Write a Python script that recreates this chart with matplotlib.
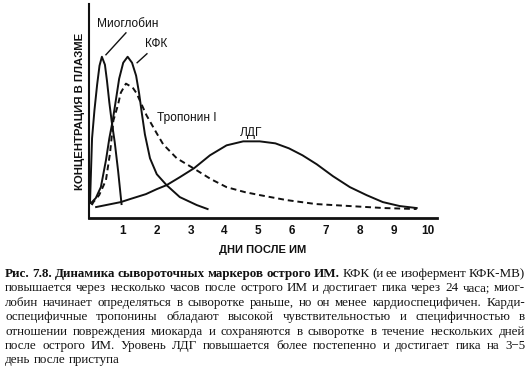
import matplotlib.pyplot as plt

# Данные: дни после ИМ и концентрация (усл. ед.)
myo_days = [0.03, 0.06, 0.09, 0.16, 0.24, 0.31, 0.38, 0.47, 0.53, 0.6, 0.67, 0.76, 0.86, 0.96]
myo_vals = [15, 48, 80, 108, 134, 153, 162, 154, 138, 116, 97, 76, 47, 14]

kfk_days = [0.06, 0.2, 0.35, 0.5, 0.6, 0.7, 0.8, 0.89, 1.01, 1.14, 1.27, 1.39, 1.48, 1.56,
            1.65, 1.8, 2.0, 2.29, 2.68, 3.18, 3.5]
kfk_vals = [15, 20, 31, 58, 80, 98, 120, 140, 156, 162, 156, 143, 125, 105,
            84, 60, 44, 33, 21, 13, 9]

trop_days = [0.08, 0.13, 0.3, 0.5, 0.62, 0.72, 0.85, 0.94, 1.09, 1.29, 1.41, 1.5, 1.7,
             2.0, 2.19, 2.59, 3.08, 3.6, 4.06, 4.6, 5.04, 5.83, 6.7, 7.7, 8.7, 9.67]
trop_vals = [13, 16, 23, 38, 65, 98, 113, 126, 135, 131, 125, 118, 103,
             85, 74, 60, 50, 39, 31, 26, 23, 18, 14, 12, 10, 9]

ldg_days = [0.21, 0.94, 1.21, 1.68, 2.0, 2.29, 2.68, 3.1, 3.57, 4.06, 4.55, 5.04, 5.5,
            5.9, 6.3, 6.72, 7.2, 7.7, 8.19, 8.67, 9.17, 9.67]
ldg_vals = [11, 16, 19, 24, 29, 33, 41, 50, 63, 73, 77, 77, 75,
            70, 63, 54, 42, 31, 23, 16, 12, 10]

ticks = [1, 2, 3, 4, 5, 6, 7, 8, 9, 10]

caption = [
    [("Рис. 7.8. Динамика сывороточных маркеров острого ИМ.", True),
     ("КФК (и ее изофермент КФК-МВ)", False)],
    [("повышается через несколько часов после острого ИМ и достигает пика через 24 часа; миог-", False)],
    [("лобин начинает определяться в сыворотке раньше, но он менее кардиоспецифичен. Карди-", False)],
    [("оспецифичные тропонины обладают высокой чувствительностью и специфичностью в", False)],
    [("отношении повреждения миокарда и сохраняются в сыворотке в течение нескольких дней", False)],
    [("после острого ИМ. Уровень ЛДГ повышается более постепенно и достигает пика на 3−5", False)],
    [("день после приступа", False)],
]

ink = "#111111"

fig = plt.figure(figsize=(5.29, 3.68), dpi=100)
ax = fig.add_axes([89 / 529, 150 / 368, 348 / 529, 214 / 368])

ax.plot(myo_days, myo_vals, color=ink, lw=1.4)
ax.plot(kfk_days, kfk_vals, color=ink, lw=1.4)
ax.plot(trop_days, trop_vals, color=ink, lw=1.4, linestyle=(0, (3, 2)))
ax.plot(ldg_days, ldg_vals, color=ink, lw=1.4)

ax.set_xlim(0, 10.27)
ax.set_ylim(0, 215)

# Подписи кривых
lab = dict(fontfamily="Liberation Sans", fontsize=8.6, color=ink, va="center")
ax.text(0.24, 195, "Миоглобин", **lab)
ax.plot([1.09, 0.5], [186, 164], color=ink, lw=1)
ax.text(1.65, 175, "КФК", **lab)
ax.plot([1.71, 1.42], [165, 156], color=ink, lw=1)
ax.text(2.0, 100, "Тропонин I", **lab)
ax.text(4.45, 85, "ЛДГ", **lab)

# Оси
for s in ["top", "right"]:
    ax.spines[s].set_visible(False)
ax.spines["left"].set_linewidth(1.5)
ax.spines["bottom"].set_linewidth(2)
ax.spines["left"].set_color(ink)
ax.spines["bottom"].set_color(ink)
ax.set_yticks([])
ax.set_xticks(ticks)
ax.set_xticklabels([str(t) for t in ticks], fontfamily="Liberation Sans",
                   fontweight="bold", fontsize=8.5, color=ink)
ax.tick_params(axis="x", length=0, pad=5)
ax.set_xlabel("ДНИ ПОСЛЕ ИМ", fontfamily="Liberation Sans", fontsize=8,
              fontweight="bold", color=ink, labelpad=6)
ax.set_ylabel("КОНЦЕНТРАЦИЯ В ПЛАЗМЕ", fontfamily="Liberation Sans", fontsize=8.2,
              fontweight="bold", color=ink, labelpad=3)

# Подпись к рисунку, выровненная по ширине
renderer = fig.canvas.get_renderer()
x_left, x_right = 5 / 529, 525 / 529
for i, line in enumerate(caption):
    y = 1 - (274 + i * 14.4) / 368
    words = []
    for chunk, bold in line:
        for w in chunk.split():
            t = fig.text(0, y, w, fontfamily="Liberation Serif", fontsize=9.4,
                         fontweight="bold" if bold else "normal", color=ink,
                         va="center", ha="left")
            words.append(t)
    widths = [t.get_window_extent(renderer).width / 529 for t in words]
    if i < len(caption) - 1:
        gap = (x_right - x_left - sum(widths)) / (len(words) - 1)
    else:
        gap = 3.5 / 529
    x = x_left
    for t, w in zip(words, widths):
        t.set_x(x)
        x += w + gap

plt.savefig("out.png", dpi=100)
